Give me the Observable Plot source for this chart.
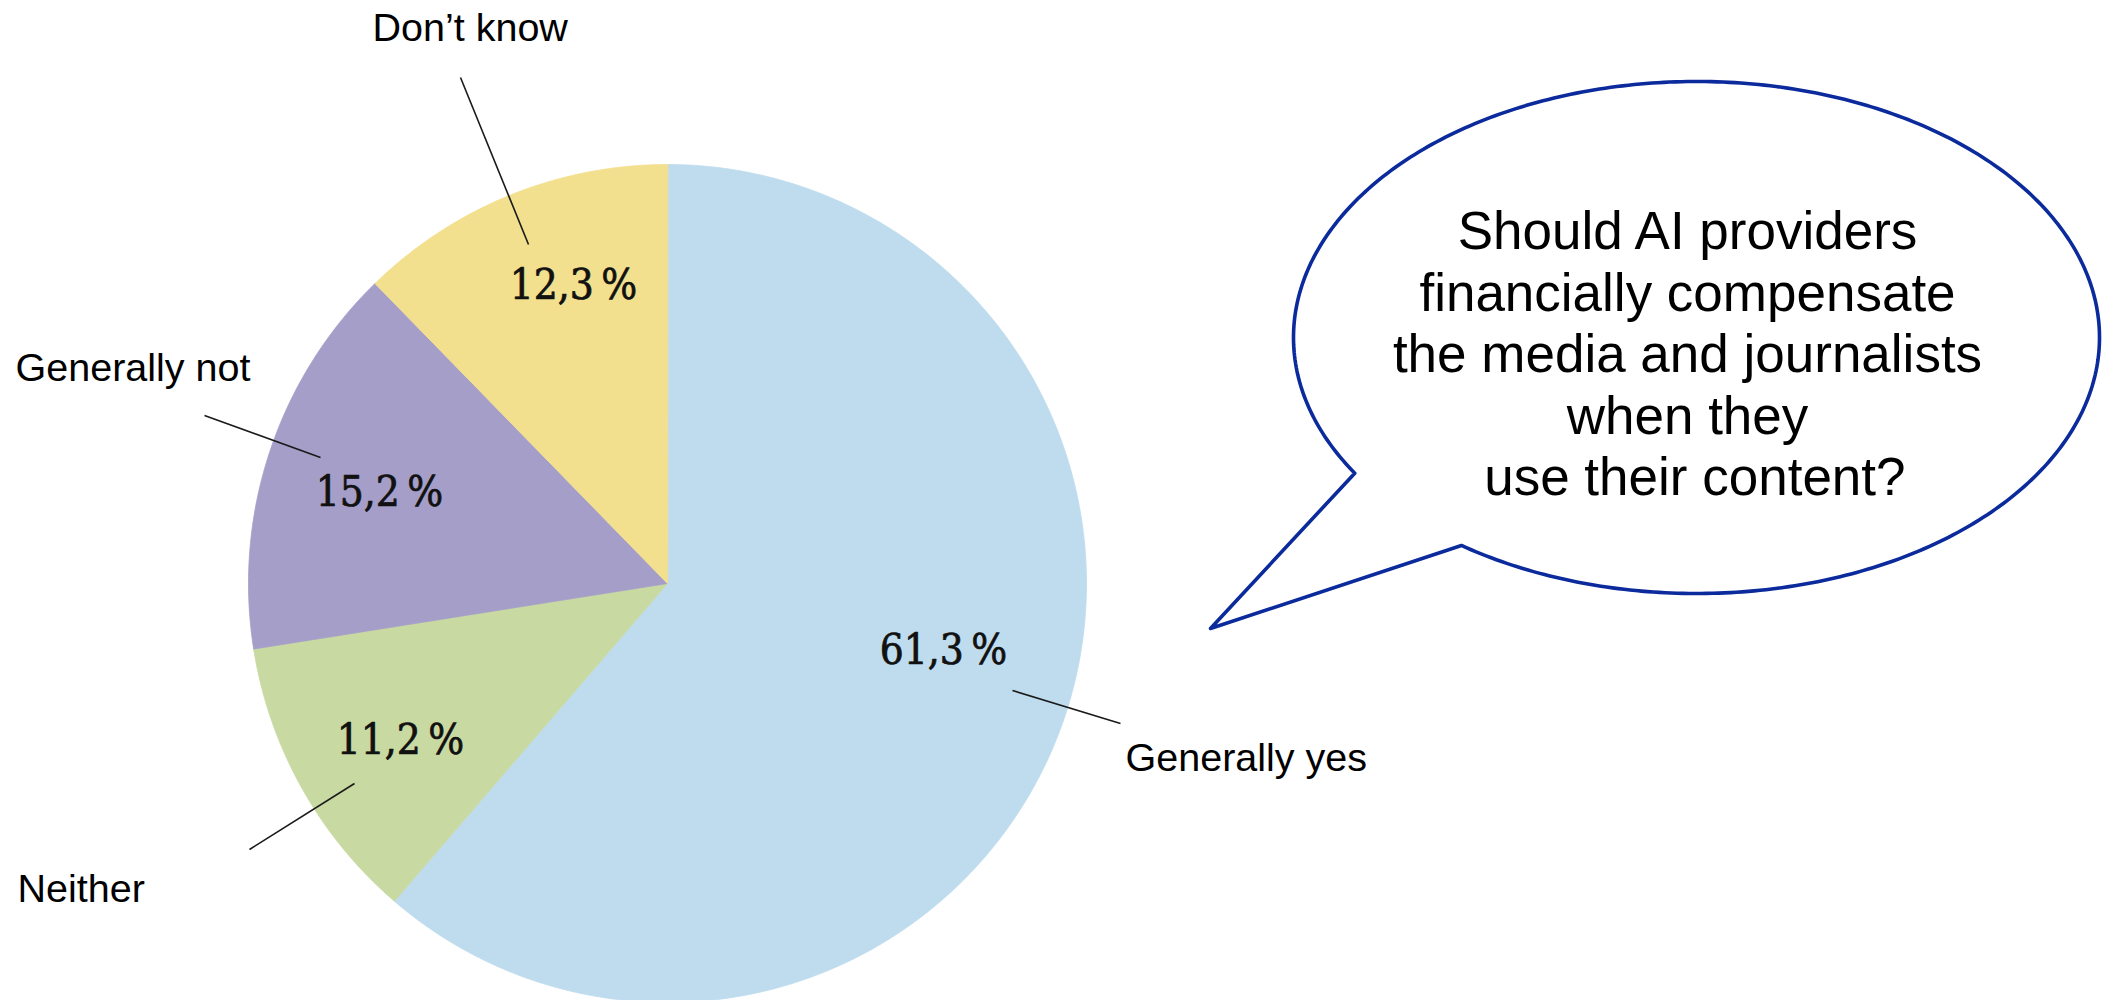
<!DOCTYPE html>
<html>
<head>
<meta charset="utf-8">
<script src="https://cdn.jsdelivr.net/npm/d3@7"></script>
<script src="https://cdn.jsdelivr.net/npm/@observablehq/plot@0.6"></script>
<style>
  html, body { margin: 0; padding: 0; background: #fff; overflow: hidden; }
</style>
</head>
<body>
<div id="chart"></div>
<script>
// ---------- data ----------
const categories  = ["Generally yes", "Neither", "Generally not", "Don\u2019t know"];
const shares      = [61.3, 11.2, 15.2, 12.3];
const shareLabels = ["61,3\u2009%", "11,2\u2009%", "15,2\u2009%", "12,3\u2009%"];
const sliceColors = ["#bfdcee", "#c9d9a2", "#a59ec8", "#f2e08e"];
const questionLines = ["Should AI providers", "financially compensate", "the media and journalists", "when they", "\u00a0use their content?"];

// ---------- layout (pixels) ----------
const W = 2108, H = 1000;
const pie = {cx: 667, cy: 583, r: 419};
const pctPos = {
  "Generally yes": [943, 650], "Neither": [400, 740],
  "Generally not": [379, 492], "Don\u2019t know": [573, 285]
};
const namePos = {
  "Generally yes": [1125, 758], "Neither": [17, 889],
  "Generally not": [15, 368], "Don\u2019t know": [372, 28]
};
const leaderPos = {
  "Generally yes": [1012, 690, 1120, 723], "Neither": [354, 783, 249, 849],
  "Generally not": [320, 457, 204, 415], "Don\u2019t know": [528, 244, 460, 77]
};
const bubble = {cx: 1696, cy: 337, rx: 403, ry: 256, a: [1356, 472], b: [1462, 544], tip: [1210, 628], textX: 1687, textY: 352};

// ---------- pie slices from the data ----------
const total = d3.sum(shares);
const slicePts = [];
let acc = 0;
categories.forEach((c, i) => {
  const a0 = acc / total * 2 * Math.PI;
  acc += shares[i];
  const a1 = acc / total * 2 * Math.PI;
  const n = Math.max(2, Math.ceil((a1 - a0) / (Math.PI / 360)));
  slicePts.push({c, x: pie.cx, y: pie.cy});
  for (let k = 0; k <= n; k++) {
    const t = a0 + (a1 - a0) * k / n;
    slicePts.push({c, x: pie.cx + pie.r * Math.sin(t), y: pie.cy - pie.r * Math.cos(t)});
  }
});

// ---------- speech bubble outline ----------
const bubblePts = [];
{
  const ang = ([px, py]) => Math.atan2((py - bubble.cy) / bubble.ry, (px - bubble.cx) / bubble.rx);
  let tA = ang(bubble.a), tB = ang(bubble.b);
  while (tB < tA) tB += 2 * Math.PI;
  const n = 400;
  for (let k = 0; k <= n; k++) {
    const t = tA + (tB - tA) * k / n;
    bubblePts.push({x: bubble.cx + bubble.rx * Math.cos(t), y: bubble.cy + bubble.ry * Math.sin(t)});
  }
  bubblePts.push({x: bubble.tip[0], y: bubble.tip[1]});
}

const pctData = categories.map((c, i) => ({c, label: shareLabels[i], x: pctPos[c][0], y: pctPos[c][1]}));
const nameData = categories.map(c => ({c, x: namePos[c][0], y: namePos[c][1]}));
const leaderData = categories.map(c => ({c, x1: leaderPos[c][0], y1: leaderPos[c][1], x2: leaderPos[c][2], y2: leaderPos[c][3]}));

const chart = Plot.plot({
  width: W, height: H, margin: 0,
  style: {background: "#fff"},
  x: {domain: [0, W], range: [0, W], axis: null},
  y: {domain: [0, H], range: [0, H], axis: null},
  color: {type: "ordinal", domain: categories, range: sliceColors},
  marks: [
    Plot.line(slicePts, {x: "x", y: "y", z: "c", fill: "c", stroke: "c", strokeWidth: 0.8, curve: "linear-closed"}),
    Plot.line(bubblePts, {x: "x", y: "y", fill: "#fff", stroke: "#0b2a9c", strokeWidth: 3.6, strokeLinejoin: "round", curve: "linear-closed"}),
    Plot.link(leaderData, {x1: "x1", y1: "y1", x2: "x2", y2: "y2", stroke: "#1a1a1a", strokeWidth: 1.6}),
    Plot.text(pctData, {x: "x", y: "y", text: "label", fontSize: 42, fill: "#111", stroke: "#111", strokeWidth: 0.7,
      fontFamily: "'DejaVu Serif Condensed', 'DejaVu Serif', serif"}),
    Plot.text(nameData, {x: "x", y: "y", text: "c", textAnchor: "start", fontSize: 39.5, fill: "#000",
      fontFamily: "'Liberation Sans', Arial, sans-serif"}),
    Plot.text([questionLines.join("\n")], {x: () => bubble.textX, y: () => bubble.textY, text: d => d,
      lineHeight: 1.16, fontSize: 53, fill: "#000", fontFamily: "'Liberation Sans', Arial, sans-serif"})
  ]
});
document.getElementById("chart").appendChild(chart);
</script>
</body>
</html>
